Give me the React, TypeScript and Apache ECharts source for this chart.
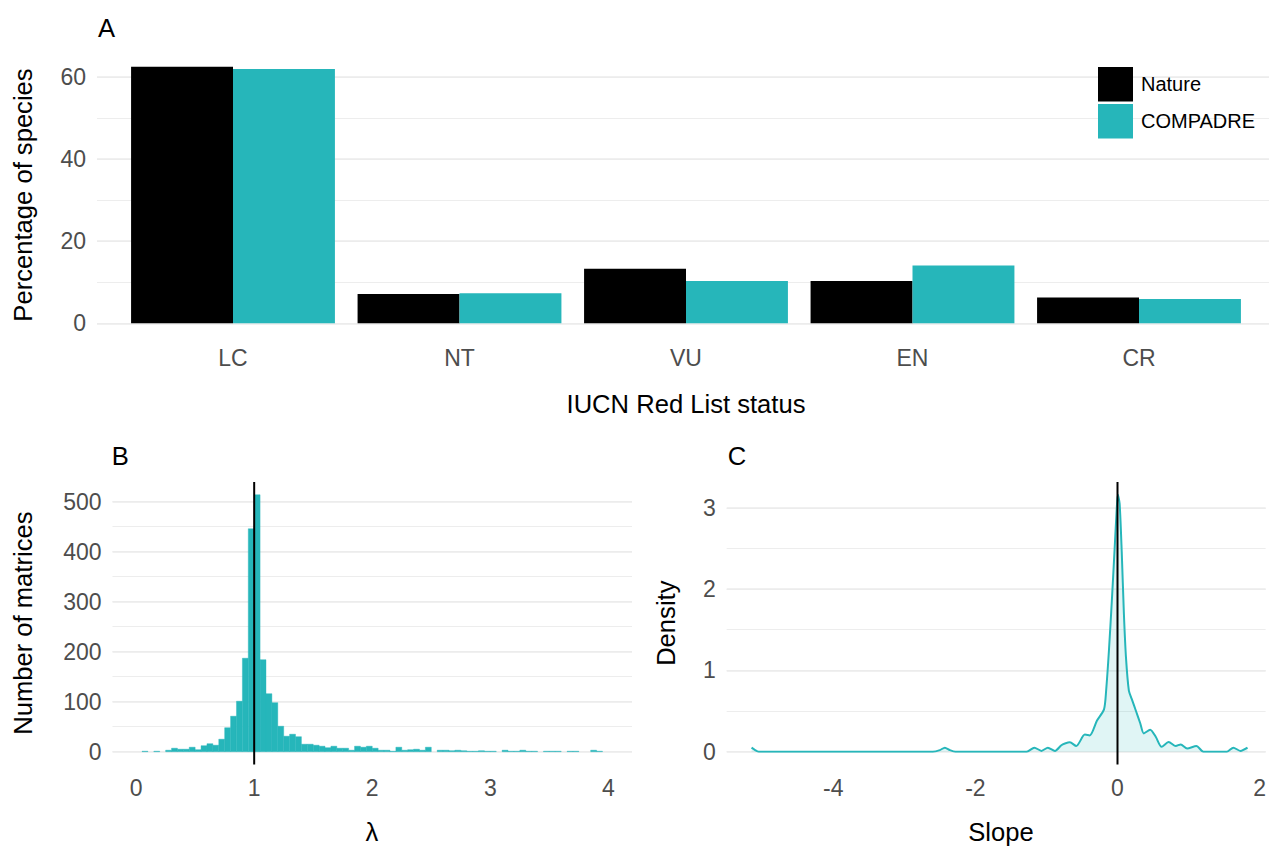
import React, { useEffect, useRef } from 'react';
import * as echarts from 'echarts';

// ---------- Panel A data ----------
const statusCategories = ['LC', 'NT', 'VU', 'EN', 'CR'];
const seriesNames = ['Nature', 'COMPADRE'];
const natureValues = [62.45, 7.13, 13.3, 10.3, 6.3];
const compadreValues = [61.9, 7.3, 10.3, 14.1, 5.9];

// ---------- Panel B data (histogram of lambda, bin width 0.05) ----------
const lambdaBinWidth = 0.05;
const lambdaBinStarts = [
  0.05, 0.1, 0.15, 0.2, 0.25, 0.3, 0.35, 0.4, 0.45, 0.5,
  0.55, 0.6, 0.65, 0.7, 0.75, 0.8, 0.85, 0.9, 0.95, 1.0,
  1.05, 1.1, 1.15, 1.2, 1.25, 1.3, 1.35, 1.4, 1.45, 1.5,
  1.55, 1.6, 1.65, 1.7, 1.75, 1.8, 1.85, 1.9, 1.95, 2.0,
  2.05, 2.1, 2.15, 2.2, 2.25, 2.3, 2.35, 2.4, 2.45, 2.5,
  2.55, 2.6, 2.65, 2.7, 2.75, 2.8, 2.85, 2.9, 2.95, 3.0,
  3.05, 3.1, 3.15, 3.2, 3.25, 3.3, 3.35, 3.4, 3.45, 3.5,
  3.55, 3.6, 3.65, 3.7, 3.75, 3.8, 3.85, 3.9, 3.95,
];
const lambdaCounts = [
  1, 0, 1, 0, 3, 7, 5, 5, 9, 4,
  12, 16, 13, 25, 48, 71, 101, 187, 446, 514,
  184, 116, 98, 51, 31, 35, 30, 15, 15, 13,
  11, 8, 11, 7, 7, 3, 11, 9, 11, 7,
  3, 3, 1, 9, 3, 4, 5, 3, 9, 0,
  3, 3, 2, 3, 2, 1, 1, 2, 1, 1,
  0, 3, 1, 1, 3, 1, 1, 0, 1, 1,
  1, 0, 1, 1, 0, 0, 3, 1, 0,
];
const lambdaReference = 1;

// ---------- Panel C data (density of slope) ----------
const slopeValues = [
  -5.15, -5.1, -5.05, -2.6, -2.5, -2.43, -2.36, -2.28, -1.28, -1.17,
  -1.07, -0.98, -0.88, -0.79, -0.74, -0.67, -0.58, -0.46, -0.39, -0.29,
  -0.19, -0.16, -0.12, -0.08, -0.04, -0.01, 0.005, 0.03, 0.06, 0.09,
  0.12, 0.16, 0.2, 0.26, 0.32, 0.37, 0.46, 0.54, 0.62, 0.72,
  0.82, 0.89, 0.98, 1.11, 1.21, 1.54, 1.63, 1.73, 1.83,
];
const densityValues = [
  0.05, 0.02, 0, 0, 0.02, 0.05, 0.02, 0, 0, 0.05,
  0.01, 0.05, 0.01, 0.08, 0.1, 0.115, 0.07, 0.21, 0.2, 0.38,
  0.52, 0.75, 1.25, 1.85, 2.5, 3.0, 3.16, 3.05, 2.45, 1.7,
  1.15, 0.75, 0.65, 0.5, 0.35, 0.225, 0.27, 0.18, 0.06, 0.12,
  0.07, 0.09, 0.04, 0.07, 0, 0, 0.05, 0.01, 0.05,
];
const slopeReference = 0;

// ---------- styling ----------
const TEAL = '#26b6ba';
const FONT = "'Liberation Sans', Arial, Helvetica, sans-serif";
const TICK_COLOR = '#4d4d4d';
const GRID_COLOR = '#ebebeb';
const TICK_SIZE = 23;
const TITLE_SIZE = 25.6;

const isMult = (v: number, step: number) => Math.abs(v / step - Math.round(v / step)) < 1e-7;

function majorY(gridIndex: number, max: number, interval: number) {
  return {
    type: 'value', gridIndex, min: 0, max, interval, position: 'left',
    axisLine: { show: false }, axisTick: { show: false },
    axisLabel: {
      margin: 11, color: TICK_COLOR, fontSize: TICK_SIZE, fontFamily: FONT,
      formatter: (v: number) => (isMult(v, interval) ? String(Math.round(v)) : ''),
    },
    splitLine: { show: true, showMaxLine: false, lineStyle: { color: GRID_COLOR, width: 1.7 } },
  };
}
function minorY(gridIndex: number, max: number, interval: number) {
  return {
    type: 'value', gridIndex, min: 0, max, interval, position: 'left',
    axisLine: { show: false }, axisTick: { show: false }, axisLabel: { show: false },
    splitLine: { show: true, showMaxLine: false, lineStyle: { color: GRID_COLOR, width: 0.9 } },
  };
}

export default function App() {
  const ref = useRef<HTMLDivElement>(null);

  useEffect(() => {
    document.body.style.margin = '0';
    if (!ref.current) return;
    const chart = echarts.init(ref.current, null, { renderer: 'svg' });

    const maxA = Math.max(...natureValues, ...compadreValues) * 1.05;
    const maxB = Math.max(...lambdaCounts) * 1.05;
    const maxC = Math.max(...densityValues) * 1.05;

    const histData = lambdaBinStarts.map((s, i) => [s, s + lambdaBinWidth, lambdaCounts[i]]);
    const densityData = slopeValues.map((s, i) => [s, densityValues[i]]);

    const vlineRender = (yMax: number) => (params: any, api: any) => {
      const top = api.coord([api.value(0), yMax]);
      const bottom = api.coord([api.value(0), 0]);
      return {
        type: 'line',
        shape: { x1: top[0], y1: top[1], x2: bottom[0], y2: bottom[1] + 12.8 },
        style: { stroke: '#000', lineWidth: 2 },
      };
    };

    const titleText = (text: string, x: number, y: number, rotate = false, align = 'center') => ({
      type: 'text',
      x, y,
      rotation: rotate ? Math.PI / 2 : 0,
      style: {
        text, fill: '#000', fontSize: TITLE_SIZE, fontFamily: FONT,
        align, verticalAlign: 'middle', textAlign: align, textVerticalAlign: 'middle',
      },
    });

    const option: any = {
      animation: false,
      backgroundColor: '#ffffff',
      textStyle: { fontFamily: FONT },
      grid: [
        { left: 97, right: 0, top: 54, bottom: 848 - 323.3 },
        { left: 119.75, right: 16.75, top: 54, bottom: 848 - 323.3 },
        { left: 112.5, right: 637, top: 481.9, bottom: 848 - 751.7 },
        { left: 726.7, right: 0, top: 481.9, bottom: 848 - 751.7 },
      ],
      xAxis: [
        { type: 'value', gridIndex: 0, show: false, min: 0, max: 1 },
        {
          type: 'category', gridIndex: 1, data: statusCategories,
          axisLine: { show: false }, axisTick: { show: false },
          axisLabel: { margin: 23, color: TICK_COLOR, fontSize: TICK_SIZE, fontFamily: FONT },
          splitLine: { show: false },
        },
        {
          type: 'value', gridIndex: 2, min: -0.2, max: 4.2, interval: 0.2,
          axisLine: { show: false }, axisTick: { show: false }, splitLine: { show: false },
          axisLabel: {
            margin: 25, color: TICK_COLOR, fontSize: TICK_SIZE, fontFamily: FONT,
            showMinLabel: false, showMaxLabel: false,
            formatter: (v: number) => (isMult(v, 1) ? String(Math.round(v)) : ''),
          },
        },
        {
          type: 'value', gridIndex: 3, min: -5.5, max: 2.085, interval: 0.5,
          axisLine: { show: false }, axisTick: { show: false }, splitLine: { show: false },
          axisLabel: {
            margin: 25, color: TICK_COLOR, fontSize: TICK_SIZE, fontFamily: FONT,
            showMinLabel: false, showMaxLabel: true,
            formatter: (v: number) => (isMult(v, 2) ? String(Math.round(v)) : ''),
          },
        },
      ],
      yAxis: [
        minorY(0, maxA, 10),
        majorY(0, maxA, 20),
        { type: 'value', gridIndex: 1, show: false, min: 0, max: maxA, splitLine: { show: false } },
        minorY(2, maxB, 50),
        majorY(2, maxB, 100),
        minorY(3, maxC, 0.5),
        majorY(3, maxC, 1),
      ],
      legend: {
        data: seriesNames,
        orient: 'vertical',
        left: 1093,
        top: 62,
        icon: 'rect',
        itemWidth: 35,
        itemHeight: 34.5,
        itemGap: 2.5,
        textStyle: { fontSize: 20, color: '#000', fontFamily: FONT, padding: [0, 0, 0, 3] },
      },
      series: [
        {
          name: seriesNames[0], type: 'bar', xAxisIndex: 1, yAxisIndex: 2,
          data: natureValues, barGap: '0%', barCategoryGap: '10%',
          itemStyle: { color: '#000000' },
        },
        {
          name: seriesNames[1], type: 'bar', xAxisIndex: 1, yAxisIndex: 2,
          data: compadreValues, barGap: '0%', barCategoryGap: '10%',
          itemStyle: { color: TEAL },
        },
        {
          name: 'lambdaHist', type: 'custom', xAxisIndex: 2, yAxisIndex: 4,
          data: histData, encode: { x: [0, 1], y: 2 },
          renderItem: (params: any, api: any) => {
            const c = api.value(2);
            if (!c) return { type: 'group', children: [] };
            const p0 = api.coord([api.value(0), c]);
            const p1 = api.coord([api.value(1), 0]);
            return {
              type: 'rect',
              shape: { x: p0[0], y: p0[1], width: p1[0] - p0[0], height: p1[1] - p0[1] },
              style: { fill: TEAL, stroke: TEAL, lineWidth: 0.4 },
            };
          },
        },
        {
          name: 'lambdaRef', type: 'custom', xAxisIndex: 2, yAxisIndex: 4, z: 5,
          data: [[lambdaReference, 0]], encode: { x: 0, y: 1 },
          renderItem: vlineRender(maxB),
        },
        {
          name: 'slopeDensity', type: 'line', xAxisIndex: 3, yAxisIndex: 6,
          data: densityData, showSymbol: false, smooth: 0.25,
          lineStyle: { color: TEAL, width: 2 },
          itemStyle: { color: TEAL },
          areaStyle: { color: 'rgba(38,182,186,0.2)', origin: 'start' },
        },
        {
          name: 'slopeRef', type: 'custom', xAxisIndex: 3, yAxisIndex: 6, z: 5,
          data: [[slopeReference, 0]], encode: { x: 0, y: 1 },
          renderItem: vlineRender(maxC),
        },
      ],
      graphic: [
        titleText('A', 98, 27.5, false, 'left'),
        titleText('B', 111.7, 456, false, 'left'),
        titleText('C', 727.7, 456, false, 'left'),
        titleText('Percentage of species', 22.5, 195, true),
        titleText('IUCN Red List status', 686, 404),
        titleText('Number of matrices', 22.5, 623.2, true),
        titleText('λ', 372, 832),
        titleText('Density', 665.8, 623.2, true),
        titleText('Slope', 1001, 832),
      ],
    };

    chart.setOption(option);
    return () => chart.dispose();
  }, []);

  return <div ref={ref} style={{ width: 1269, height: 848 }} />;
}
